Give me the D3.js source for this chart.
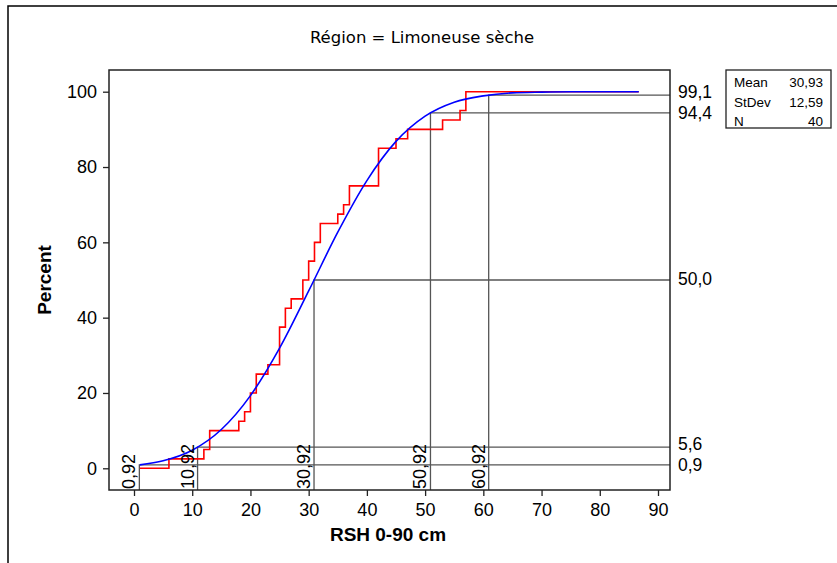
<!DOCTYPE html>
<html>
<head>
<meta charset="utf-8">
<script src="https://cdn.jsdelivr.net/npm/d3@7"></script>
<style>
  body { margin: 0; background: #fff; }
  text { font-family: "Liberation Sans", Arial, sans-serif; fill: #000; }
</style>
</head>
<body>
<div id="graph"></div>
<script>
// sorted sample, N = 40
const rshValues = [6, 12, 13, 13, 18, 19, 20, 20, 21, 21, 23, 25, 25, 25, 25, 26, 26, 27, 29, 29,
    30, 30, 31, 31, 32, 32, 35, 36, 37, 37, 42, 42, 42, 42, 45, 47, 53, 56, 57, 57];

// fitted normal curve
const fitX = [1, 5, 10, 15, 20, 25, 30, 35, 40, 45, 50, 55, 60, 65, 70, 75, 80, 86.7];
const fitPct = [0.9, 2.0, 4.8, 10.3, 19.3, 31.9, 47.1, 62.7, 76.4, 86.8, 93.5, 97.2, 98.9, 99.7, 99.9, 100, 100, 100];

// percentile reference lines
const refX = [0.92, 10.92, 30.92, 50.92, 60.92];
const refPct = [0.9, 5.6, 50.0, 94.4, 99.1];

const xTicks = [0, 10, 20, 30, 40, 50, 60, 70, 80, 90];
const yTicks = [0, 20, 40, 60, 80, 100];

const statLabels = ["Mean", "StDev", "N"];
const statValues = ["30,93", "12,59", "40"];

const width = 837, height = 563;
const frame = {left: 109, right: 670, top: 70, bottom: 490};

let svg = d3.select("#graph")
    .append("svg")
    .attr("width", width)
    .attr("height", height);

let x = d3.scaleLinear().domain([0, 90]).range([134, 658]);
let y = d3.scaleLinear().domain([0, 100]).range([468.3, 91.7]);

let comma = function(v, digits) { return v.toFixed(digits).replace(".", ","); };

// outer border (left and top only visible)
svg.append("path")
    .attr("d", `M8,${height} V6 H${width}`)
    .attr("fill", "none")
    .attr("stroke", "#000")
    .attr("stroke-width", 1.5);

// reference lines
let refs = svg.append("g")
    .attr("stroke", "#555")
    .attr("stroke-width", 1.3)
    .attr("fill", "none");

refX.forEach(function(rx, i) {
    refs.append("path")
        .attr("d", `M${x(rx)},${frame.bottom} V${y(refPct[i])} H${frame.right}`);
});

// empirical cdf, extended over the fitted range
let n = rshValues.length;
let steps = [[fitX[0], 0]];
let uniq = Array.from(new Set(rshValues));
uniq.forEach(function(v) {
    steps.push([v, 100 * d3.bisectRight(rshValues, v) / n]);
});
steps.push([fitX[fitX.length - 1], 100]);

svg.append("path")
    .datum(steps)
    .attr("fill", "none")
    .attr("stroke", "#ff0000")
    .attr("stroke-width", 1.6)
    .attr("d", d3.line()
        .x(function(d) { return x(d[0]); })
        .y(function(d) { return y(d[1]); })
        .curve(d3.curveStepAfter));

svg.append("path")
    .datum(fitX.map(function(v, i) { return [v, fitPct[i]]; }))
    .attr("fill", "none")
    .attr("stroke", "#0000ff")
    .attr("stroke-width", 1.6)
    .attr("d", d3.line()
        .x(function(d) { return x(d[0]); })
        .y(function(d) { return y(d[1]); })
        .curve(d3.curveMonotoneX));

// plot frame
svg.append("rect")
    .attr("x", frame.left)
    .attr("y", frame.top)
    .attr("width", frame.right - frame.left)
    .attr("height", frame.bottom - frame.top)
    .attr("fill", "none")
    .attr("stroke", "#222")
    .attr("stroke-width", 1.5);

// axes
let xAxis = svg.append("g")
    .attr("transform", `translate(0, ${frame.bottom})`)
    .call(d3.axisBottom(x).tickValues(xTicks).tickSize(6).tickPadding(7));
let yAxis = svg.append("g")
    .attr("transform", `translate(${frame.left}, 0)`)
    .call(d3.axisLeft(y).tickValues(yTicks).tickSize(6).tickPadding(6));

[xAxis, yAxis].forEach(function(a) {
    a.select(".domain").remove();
    a.selectAll(".tick line").attr("stroke", "#222").attr("stroke-width", 1.3);
    a.selectAll(".tick text")
        .style("font-family", "'Liberation Sans', Arial, sans-serif")
        .style("font-size", "18px")
        .attr("fill", "#000");
});

// reference labels, right side; close pairs pushed slightly apart
let nudge = refPct.map(function(p, i) {
    let up = refPct.some(function(q) { return q > p && y(p) - y(q) < 20; });
    let down = refPct.some(function(q) { return q < p && y(q) - y(p) < 20; });
    return (up ? 1.5 : 0) - (down ? 1.5 : 0);
});

svg.append("g").selectAll("text")
    .data(refPct)
    .enter()
    .append("text")
    .attr("x", 678)
    .attr("y", function(d, i) { return y(d) + nudge[i]; })
    .attr("dy", "0.27em")
    .style("font-size", "17.5px")
    .text(function(d) { return comma(d, 1); });

// reference labels, rotated along the verticals
svg.append("g").selectAll("text")
    .data(refX)
    .enter()
    .append("text")
    .attr("transform", function(d) { return `translate(${x(d) - 4}, ${frame.bottom - 1}) rotate(-90)`; })
    .style("font-size", "18px")
    .style("text-anchor", "start")
    .text(function(d) { return comma(d, 2); });

// titles
svg.append("text")
    .attr("x", 422)
    .attr("y", 43)
    .style("text-anchor", "middle")
    .style("font-family", "'DejaVu Sans', sans-serif")
    .style("font-size", "16.5px")
    .text("Région = Limoneuse sèche");

svg.append("text")
    .attr("x", 388)
    .attr("y", 541)
    .style("text-anchor", "middle")
    .style("font-size", "19px")
    .style("font-weight", 700)
    .text("RSH 0-90 cm");

svg.append("text")
    .attr("transform", "translate(51, 280) rotate(-90)")
    .style("text-anchor", "middle")
    .style("font-size", "19px")
    .style("font-weight", 700)
    .text("Percent");

// stats box
let legend = svg.append("g");
legend.append("rect")
    .attr("x", 726)
    .attr("y", 70)
    .attr("width", 105)
    .attr("height", 58)
    .attr("fill", "#fff")
    .attr("stroke", "#222")
    .attr("stroke-width", 1.3);

statLabels.forEach(function(s, i) {
    legend.append("text")
        .attr("x", 734)
        .attr("y", 87 + i * 19.5)
        .style("font-size", "13.5px")
        .text(s);
    legend.append("text")
        .attr("x", 823)
        .attr("y", 87 + i * 19.5)
        .style("font-size", "13.5px")
        .style("text-anchor", "end")
        .text(statValues[i]);
});
</script>
</body>
</html>
